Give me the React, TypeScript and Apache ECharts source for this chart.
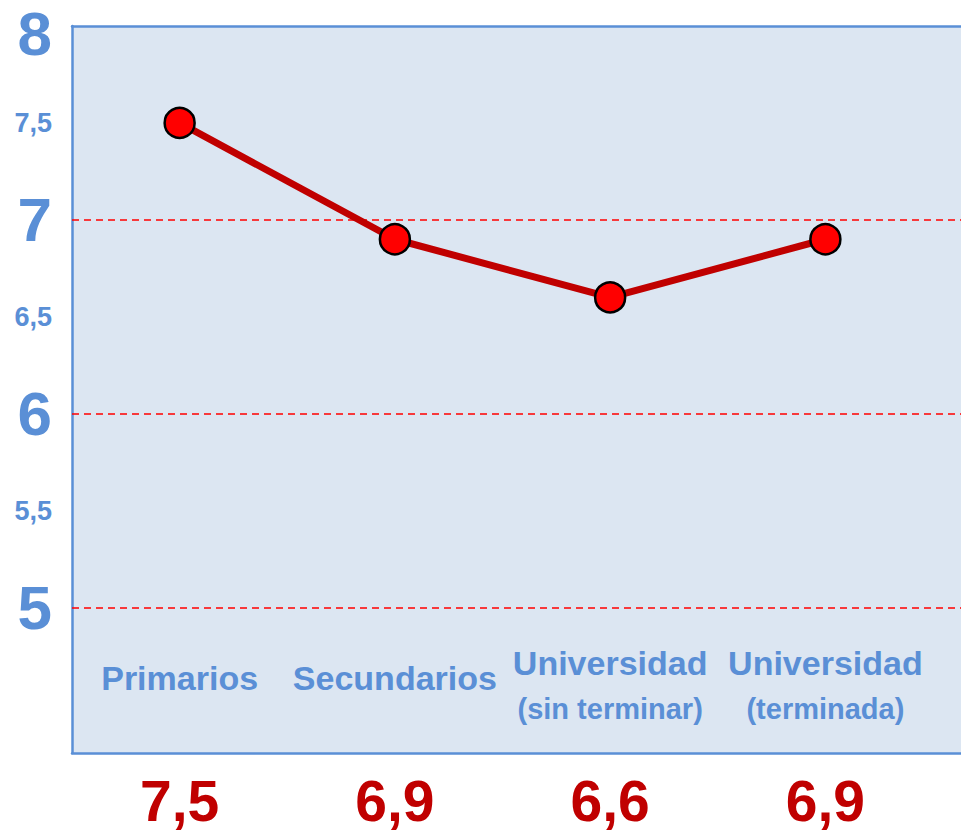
import React, { useEffect, useRef } from "react";
import * as echarts from "echarts";

const categories = [
  "Primarios",
  "Secundarios",
  "Universidad\n(sin terminar)",
  "Universidad\n(terminada)",
];
const values = [7.5, 6.9, 6.6, 6.9];
const referenceLines = [5, 6, 7];

const BLUE = "#5a8fd6";
const DARK_RED = "#c00000";

const fmt = (v: number) => String(v).replace(".", ",");

export default function App() {
  const ref = useRef<HTMLDivElement>(null);
  useEffect(() => {
    if (!ref.current) return;
    const chart = echarts.init(ref.current, undefined, { renderer: "svg" });
    const xLabelIdx = (v: number) =>
      Math.abs(v - Math.round(v)) < 1e-6 && Math.round(v) >= 0 && Math.round(v) < categories.length
        ? Math.round(v)
        : -1;
    const xBase = {
      type: "value",
      min: -0.5,
      max: 3.63,
      interval: 0.5,
      axisTick: { show: false },
      splitLine: { show: false },
    };
    const bigStyle = {
      fontFamily: "Liberation Sans",
      fontWeight: "bold",
      fontSize: 62,
      lineHeight: 50,
      color: BLUE,
    };
    chart.setOption({
      animation: false,
      grid: {
        left: 72,
        right: 0,
        top: 26,
        bottom: 79,
        show: true,
        backgroundColor: "#dce6f2",
        borderWidth: 0,
        outerBoundsMode: "none",
        containLabel: false,
      },
      xAxis: [
        {
          ...xBase,
          position: "bottom",
          axisLine: { show: true, onZero: false, lineStyle: { color: BLUE, width: 2.5 } },
          axisLabel: {
            inside: true,
            margin: 68,
            verticalAlign: "middle",
            formatter: (v: number) => {
              const i = xLabelIdx(v);
              if (i < 0) return "";
              const parts = categories[i].split("\n");
              return parts.length > 1
                ? `{a|${parts[0]}}\n{b|${parts[1]}}`
                : `{a|${parts[0]}}\n{s| }`;
            },
            rich: {
              a: {
                fontFamily: "Liberation Sans",
                fontWeight: "bold",
                fontSize: 34,
                color: BLUE,
                lineHeight: 48,
                align: "center",
              },
              b: {
                fontFamily: "Liberation Sans",
                fontWeight: "bold",
                fontSize: 29,
                color: BLUE,
                lineHeight: 44,
                align: "center",
              },
              s: { fontSize: 10, lineHeight: 14 },
            },
          },
        },
        {
          ...xBase,
          position: "bottom",
          axisLine: { show: false, onZero: false },
          axisLabel: {
            margin: 48,
            verticalAlign: "middle",
            color: DARK_RED,
            fontFamily: "Liberation Sans",
            fontWeight: "bold",
            fontSize: 57,
            lineHeight: 50,
            formatter: (v: number) => {
              const i = xLabelIdx(v);
              return i < 0 ? "" : fmt(values[i]);
            },
          },
        },
        {
          ...xBase,
          position: "top",
          axisLine: { show: true, onZero: false, lineStyle: { color: BLUE, width: 2.5 } },
          axisLabel: { show: false },
        },
      ],
      yAxis: {
        type: "value",
        min: 4.25,
        max: 8,
        interval: 0.25,
        axisLine: { show: true, onZero: false, lineStyle: { color: BLUE, width: 2.5 } },
        axisTick: { show: false },
        splitLine: { show: false },
        axisLabel: {
          margin: 20,
          formatter: (v: number) => {
            if (v < 4.99) return "";
            if (Math.abs(v - 8) < 1e-6) return `{top|8}`;
            if (Math.abs(v - Math.round(v)) < 1e-6) return `{big|${Math.round(v)}}`;
            if (Math.abs(v * 2 - Math.round(v * 2)) < 1e-6) return `{small|${fmt(v)}}`;
            return "";
          },
          rich: {
            big: bigStyle,
            top: { ...bigStyle, padding: [14, 0, 0, 0] },
            small: {
              fontFamily: "Liberation Sans",
              fontWeight: "bold",
              fontSize: 27,
              color: BLUE,
            },
          },
        },
      },
      series: [
        {
          type: "line",
          xAxisIndex: 0,
          data: values.map((v, i) => [i, v]),
          lineStyle: { color: DARK_RED, width: 7 },
          symbol: "circle",
          symbolSize: 30,
          itemStyle: { color: "#ff0000", borderColor: "#000000", borderWidth: 2.5 },
          z: 5,
          markLine: {
            silent: true,
            symbol: "none",
            label: { show: false },
            lineStyle: { color: "#ff0000", type: [7, 5], width: 1.5 },
            data: referenceLines.map((y) => ({ yAxis: y })),
          },
        },
      ],
    });
    return () => chart.dispose();
  }, []);
  return (
    <div
      ref={ref}
      style={{ position: "absolute", left: 0, top: 0, width: 961, height: 832 }}
    />
  );
}
